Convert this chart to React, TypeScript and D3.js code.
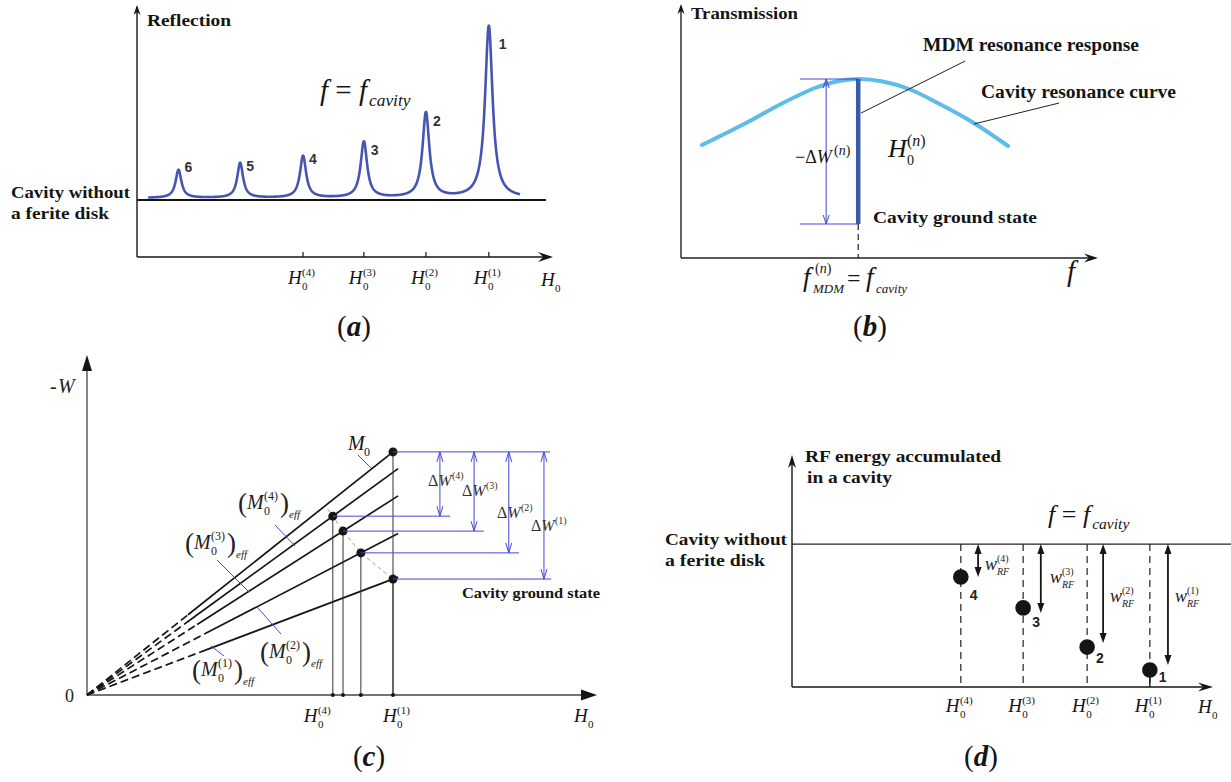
import React from 'react';
import * as d3 from 'd3';

const SERIF = "'Liberation Serif','Times New Roman',Times,serif";
const SANS = "'Liberation Sans',Arial,Helvetica,sans-serif";
const BLUE = '#4646d6';
const INK = '#151515';

// ---------- Panel (a): reflection peaks ----------
const reflPeakLabels = ['1', '2', '3', '4', '5', '6'];
const reflPeakH0 = [85.6, 70.3, 55.2, 40.4, 25.1, 10.1];
const reflPeakTop = [3.915, 2.44, 1.949, 1.71, 1.593, 1.475];
const reflPeakWidth = [1.1, 1.0, 0.95, 0.9, 0.85, 0.85];
const reflPeakLabelDy = [23, 13, 13, 8, 8, 2];
const reflPeakLabelDx = [10, 7, 7, 6, 6, 6];
const reflBase = 1.0;
const reflNoDisk = 0.966;
const reflRange = [2.7, 93.2];
const aTickH0 = [40.4, 55.2, 70.3, 85.6];
const aTickLabels = ['(4)', '(3)', '(2)', '(1)'];

// ---------- Panel (b): transmission ----------
const transF = [5.05, 14.7, 24.5, 32.2, 37.3, 42.6, 48.5, 54.8, 61.5, 70.4, 78.6];
const transT = [45.2, 53.2, 62, 68, 70.6, 71.6, 70.6, 67.6, 62.2, 54, 44.8];
const fMDM = 42.6;
const mdmTop = 71.6;
const groundB = 13.6;

// ---------- Panel (c): -W vs H0 ----------
const cLabels = ['(4)', '(3)', '(2)', '(1)'];
const cH0 = [48.2, 50.2, 53.7, 60.0];
const cWeff = [52.6, 48.2, 41.8, 34.1];
const cM0 = 71.5;
const cLineEnd = 61;
const cSolidFromM0 = 19.8;
const cSolidFrom = [20.2, 21.6, 23.1, 23.1];
const cBlueEnd = [71.2, 77.8, 84.7, 91.0];
const cBlueTopEnd = 90.8;
const cArrowX = [69.2, 75.9, 82.7, 89.6];

// ---------- Panel (d): RF energy ----------
const dLabels = ['4', '3', '2', '1'];
const dSup = ['(4)', '(3)', '(2)', '(1)'];
const dH0 = [40.1, 54.9, 70.1, 85.0];
const dEnergy = [47.4, 34.1, 17.2, 7.3];
const dArrowX = [44.2, 59.1, 73.9, 89.3];
const dArrowEnd = [47.4, 31.9, 19.0, 9.5];
const dNoDisk = 61.6;
const dLabelDy = [23, 19, 16, 12];

// scales
const xA = d3.scaleLinear().domain([0, 100]).range([137, 548]);
const yA = d3.scaleLinear().domain([0, 4]).range([257, 21]);
const xB = d3.scaleLinear().domain([0, 100]).range([681, 1097]);
const yB = d3.scaleLinear().domain([0, 100]).range([258, 8]);
const xC = d3.scaleLinear().domain([0, 100]).range([87, 597]);
const yC = d3.scaleLinear().domain([0, 100]).range([695, 355]);
const xD = d3.scaleLinear().domain([0, 100]).range([792, 1213]);
const yD = d3.scaleLinear().domain([0, 100]).range([687, 455]);

function Arrow({ x, y, angle, len = 14, half = 5, notch = 0.3, fill = INK }: any) {
  const d = `M0,0 L${-len},${-half} L${-len * (1 - notch)},0 L${-len},${half} Z`;
  return <path d={d} transform={`translate(${x},${y}) rotate(${angle})`} fill={fill} />;
}
function OpenArrow({ x, y, angle, len = 9, half = 3, stroke = BLUE }: any) {
  const d = `M${-len},${-half} L0,0 L${-len},${half}`;
  return <path d={d} transform={`translate(${x},${y}) rotate(${angle})`} fill="none" stroke={stroke} strokeWidth={1} />;
}
function Sym({ x, y, size = 20, base, bw, sub, sup, subSize, supSize, subItalic = false, subDy, supDy, fill = INK }: any) {
  return (
    <g fill={fill} fontFamily={SERIF}>
      <text x={x} y={y} fontSize={size}>{base}</text>
      {sub && (
        <text x={x + bw} y={y + (subDy ?? size * 0.3)} fontSize={subSize ?? size * 0.58} fontStyle={subItalic ? 'italic' : 'normal'}>{sub}</text>
      )}
      {sup && (
        <text x={x + bw} y={y - (supDy ?? size * 0.42)} fontSize={supSize ?? size * 0.58}>{sup}</text>
      )}
    </g>
  );
}
const N_SUP = <>(<tspan fontStyle="italic">n</tspan>)</>;
function HLabel({ x, y, sup, size = 19 }: any) {
  return <Sym x={x} y={y} size={size} base={<tspan fontStyle="italic">H</tspan>} bw={size * 0.74} sub="0" sup={sup} subSize={size * 0.58} supSize={size * 0.58} />;
}
function Caption({ cx, y, letter }: any) {
  return (
    <text x={cx} y={y} textAnchor="middle" fontFamily={SERIF} fontSize={29} fill={INK}>
      (<tspan fontStyle="italic" fontWeight="bold">{letter}</tspan>)
    </text>
  );
}
function Bold({ x, y, size = 17, w, children }: any) {
  return (
    <text x={x} y={y} fontFamily={SERIF} fontWeight="bold" fontSize={size} fill={INK} textLength={w} lengthAdjust="spacingAndGlyphs">{children}</text>
  );
}
function FCavity({ x, y, size = 27 }: any) {
  return (
    <text x={x} y={y} fontFamily={SERIF} fontSize={size} fill={INK} fontStyle="italic">
      f<tspan fontStyle="normal"> = </tspan>f<tspan fontSize={size * 0.6} dy={size * 0.22} dx={2}>cavity</tspan>
    </text>
  );
}
function MEff({ x, y, n }: any) {
  return (
    <g fontFamily={SERIF} fill="#222">
      <text x={x} y={y + 3} fontSize={27}>(</text>
      <text x={x + 9} y={y} fontSize={20} fontStyle="italic">M</text>
      <text x={x + 26} y={y + 6} fontSize={12}>0</text>
      <text x={x + 26} y={y - 9} fontSize={12}>{n}</text>
      <text x={x + 42} y={y + 3} fontSize={27}>)</text>
      <text x={x + 51} y={y + 9} fontSize={11} fontStyle="italic">eff</text>
    </g>
  );
}

function PanelA() {
  const reflAt = (h: number) =>
    reflBase +
    d3.sum(reflPeakH0, (c, i) => {
      const g = reflPeakWidth[i];
      const a = reflPeakTop[i] - reflBase;
      return (a * g * g) / ((h - c) ** 2 + g * g);
    });
  const samples = d3.range(reflRange[0], reflRange[1] + 1e-9, 0.05);
  const line = d3.line<number>().x((h) => xA(h)).y((h) => yA(reflAt(h)));
  return (
    <g>
      <line x1={xA(0)} y1={yA(0)} x2={xA(0)} y2={7} stroke={INK} strokeWidth={1.4} />
      <Arrow x={xA(0)} y={5} angle={-90} len={10} half={3.5} />
      <line x1={xA(0)} y1={yA(0)} x2={548} y2={yA(0)} stroke={INK} strokeWidth={1.6} />
      <Arrow x={553} y={yA(0)} angle={0} len={15} half={5} notch={0.35} />
      {aTickH0.map((h, i) => (
        <g key={i}>
          <line x1={xA(h)} x2={xA(h)} y1={yA(0)} y2={yA(0) - 5} stroke={INK} strokeWidth={1.2} />
          <HLabel x={xA(h) - 15} y={284} sup={aTickLabels[i]} />
        </g>
      ))}
      <HLabel x={541} y={286} />
      <line x1={xA(0)} x2={546} y1={yA(reflNoDisk)} y2={yA(reflNoDisk)} stroke={INK} strokeWidth={2} />
      <path d={line(samples) || ''} fill="none" stroke="#4655b2" strokeWidth={2.6} strokeLinejoin="round" />
      {reflPeakLabels.map((lab, i) => (
        <text key={lab} x={xA(reflPeakH0[i]) + reflPeakLabelDx[i]} y={yA(reflPeakTop[i]) + reflPeakLabelDy[i]} fontFamily={SANS} fontWeight="bold" fontSize={14} fill="#333">{lab}</text>
      ))}
      <Bold x={147} y={26} w={84}>Reflection</Bold>
      <Bold x={11} y={198} w={119}>Cavity without</Bold>
      <Bold x={11} y={219} w={98}>a ferite disk</Bold>
      <FCavity x={320} y={100} size={29} />
      <Caption cx={354} y={336} letter="a" />
    </g>
  );
}

function PanelB() {
  const pts = transF.map((f, i) => [f, transT[i]] as [number, number]);
  const line = d3.line<[number, number]>().x((d) => xB(d[0])).y((d) => yB(d[1])).curve(d3.curveCatmullRom.alpha(0.5));
  const dimX = xB(34.9);
  const dimL = xB(28.6);
  return (
    <g>
      <line x1={xB(0)} y1={yB(0)} x2={xB(0)} y2={6} stroke="#222" strokeWidth={1.4} />
      <Arrow x={xB(0)} y={4} angle={-90} len={10} half={3.5} />
      <line x1={xB(0)} y1={yB(0)} x2={1092} y2={yB(0)} stroke="#222" strokeWidth={1.5} />
      <Arrow x={1098} y={yB(0)} angle={0} len={14} half={4.5} notch={0.35} />
      <path d={line(pts) || ''} fill="none" stroke="#56b7e8" strokeWidth={4} strokeLinecap="round" opacity={0.95} />
      <line x1={xB(fMDM)} x2={xB(fMDM)} y1={yB(groundB)} y2={yB(0)} stroke="#222" strokeWidth={1.2} strokeDasharray="6,4" />
      <line x1={xB(fMDM)} x2={xB(fMDM)} y1={yB(mdmTop)} y2={yB(groundB)} stroke="#3a59a8" strokeWidth={4.5} />
      <line x1={dimL} x2={xB(fMDM)} y1={yB(mdmTop)} y2={yB(mdmTop)} stroke={BLUE} strokeWidth={1} />
      <line x1={dimL} x2={xB(fMDM)} y1={yB(groundB)} y2={yB(groundB)} stroke={BLUE} strokeWidth={1} />
      <line x1={dimX} x2={dimX} y1={yB(mdmTop)} y2={yB(groundB)} stroke={BLUE} strokeWidth={1} />
      <OpenArrow x={dimX} y={yB(mdmTop)} angle={-90} />
      <OpenArrow x={dimX} y={yB(groundB)} angle={90} />
      <Sym x={795} y={163} size={18}
        base={<><tspan>−Δ</tspan><tspan fontStyle="italic">W</tspan></>} bw={39}
        sup={N_SUP} supSize={14} supDy={8} />
      <Sym x={888} y={157} size={26} base={<tspan fontStyle="italic">H</tspan>} bw={19} sub="0" subSize={14} subDy={8} sup={N_SUP} supSize={16} supDy={11} />
      <line x1={xB(68.3)} y1={yB(78.8)} x2={xB(43.3)} y2={yB(58)} stroke="#222" strokeWidth={1} />
      <line x1={xB(90.9)} y1={yB(62)} x2={xB(70.4)} y2={yB(53.6)} stroke="#222" strokeWidth={1} />
      <Bold x={691} y={19} w={107}>Transmission</Bold>
      <Bold x={923} y={51} size={18} w={216}>MDM resonance response</Bold>
      <Bold x={981} y={98} size={18} w={195}>Cavity resonance curve</Bold>
      <Bold x={873} y={223} size={17} w={164}>Cavity ground state</Bold>
      <text x={803} y={286} fontFamily={SERIF} fontSize={27} fill={INK} fontStyle="italic">f</text>
      <text x={813} y={293} fontFamily={SERIF} fontSize={13} fill={INK} fontStyle="italic">MDM</text>
      <text x={815} y={273} fontFamily={SERIF} fontSize={14} fill={INK}>{N_SUP}</text>
      <text x={847} y={286} fontFamily={SERIF} fontSize={24} fill={INK}>=</text>
      <text x={866} y={286} fontFamily={SERIF} fontSize={27} fill={INK} fontStyle="italic">f</text>
      <text x={876} y={293} fontFamily={SERIF} fontSize={13} fill={INK} fontStyle="italic">cavity</text>
      <text x={1067} y={281} fontFamily={SERIF} fontSize={29} fill={INK} fontStyle="italic">f</text>
      <Caption cx={870} y={336} letter="b" />
    </g>
  );
}

function PanelC() {
  const ox = xC(0);
  const oy = yC(0);
  const lines = [
    { slope: cM0 / cH0[3], end: cH0[3], solid: cSolidFromM0 },
    ...cH0.map((h, i) => ({ slope: cWeff[i] / h, end: cLineEnd, solid: cSolidFrom[i] })),
  ];
  const locus = d3.line<[number, number]>().x((d) => xC(d[0])).y((d) => yC(d[1]));
  const locusPts: [number, number][] = [[cH0[0] - 1, cWeff[0] + 2.1], ...cH0.map((h, i) => [h, cWeff[i]] as [number, number])];
  return (
    <g>
      <line x1={ox} y1={oy} x2={ox} y2={370} stroke="#444" strokeWidth={1.3} />
      <Arrow x={ox} y={355} angle={-90} len={16} half={5} notch={0} />
      <line x1={ox} y1={oy} x2={585} y2={oy} stroke="#444" strokeWidth={1.3} />
      <Arrow x={597} y={oy} angle={0} len={16} half={5.5} notch={0} />
      {lines.map((l, i) => (
        <g key={i}>
          <line x1={ox} y1={oy} x2={xC(l.solid)} y2={yC(l.solid * l.slope)} stroke={INK} strokeWidth={1.7} strokeDasharray="8,4" />
          <line x1={xC(l.solid)} y1={yC(l.solid * l.slope)} x2={xC(l.end)} y2={yC(l.end * l.slope)} stroke={INK} strokeWidth={1.7} />
        </g>
      ))}
      <path d={locus(locusPts) || ''} fill="none" stroke="#888" strokeWidth={0.8} strokeDasharray="4,3" />
      <line x1={xC(cH0[3])} x2={xC(cH0[3])} y1={yC(cM0)} y2={oy} stroke="#333" strokeWidth={1} />
      {cH0.map((h, i) => (
        <g key={i}>
          <line x1={xC(h)} x2={xC(h)} y1={yC(cWeff[i])} y2={oy} stroke="#333" strokeWidth={1} />
          <circle cx={xC(h)} cy={oy} r={2} fill={INK} />
          <circle cx={xC(h)} cy={yC(cWeff[i])} r={4.5} fill={INK} />
          <line x1={xC(h)} x2={xC(cBlueEnd[i])} y1={yC(cWeff[i])} y2={yC(cWeff[i])} stroke={BLUE} strokeWidth={1} />
          <line x1={xC(cArrowX[i])} x2={xC(cArrowX[i])} y1={yC(cM0)} y2={yC(cWeff[i])} stroke={BLUE} strokeWidth={1} />
          <OpenArrow x={xC(cArrowX[i])} y={yC(cM0)} angle={-90} len={10} />
          <OpenArrow x={xC(cArrowX[i])} y={yC(cWeff[i])} angle={90} len={10} />
        </g>
      ))}
      <circle cx={xC(cH0[3])} cy={yC(cM0)} r={4.5} fill={INK} />
      <line x1={xC(cH0[3])} x2={xC(cBlueTopEnd)} y1={yC(cM0)} y2={yC(cM0)} stroke={BLUE} strokeWidth={1} />
      {/* leaders */}
      <line x1={358} y1={455} x2={371} y2={468} stroke={BLUE} strokeWidth={1} />
      <line x1={275} y1={525} x2={295} y2={546} stroke={BLUE} strokeWidth={1} />
      <line x1={217} y1={560} x2={249} y2={592} stroke={BLUE} strokeWidth={1} />
      <line x1={257} y1={607} x2={281} y2={634} stroke={BLUE} strokeWidth={1} />
      <line x1={211} y1={646} x2={224} y2={656} stroke={BLUE} strokeWidth={1} />
      <Sym x={348} y={450} size={20} base={<tspan fontStyle="italic">M</tspan>} bw={16} sub="0" subSize={12} subDy={6} />
      <MEff x={238} y={509} n="(4)" />
      <MEff x={185} y={549} n="(3)" />
      <MEff x={260} y={658} n="(2)" />
      <MEff x={192} y={676} n="(1)" />
      {cLabels.map((lab, i) => {
        const pos = [[428, 486], [462, 496], [497, 518], [531, 531]][i];
        return (
          <Sym key={lab} x={pos[0]} y={pos[1]} size={16} base={<><tspan>Δ</tspan><tspan fontStyle="italic">W</tspan></>} bw={24} sup={lab} supSize={10} supDy={7} fill="#333" />
        );
      })}
      <Bold x={462} y={598} size={14.5} w={138}>Cavity ground state</Bold>
      <text x={50} y={393} fontFamily={SERIF} fontSize={20} fill="#222">-</text>
      <text x={58} y={393} fontFamily={SERIF} fontSize={20} fill="#222" fontStyle="italic">W</text>
      <text x={65} y={702} fontFamily={SERIF} fontSize={18} fill="#222">0</text>
      <HLabel x={xC(cH0[0]) - 29} y={722} sup={cLabels[0]} />
      <HLabel x={xC(cH0[3]) - 10} y={722} sup={cLabels[3]} />
      <HLabel x={574} y={722} />
      <Caption cx={369} y={766} letter="c" />
    </g>
  );
}

function PanelD() {
  return (
    <g>
      <line x1={xD(0)} y1={yD(0)} x2={xD(0)} y2={462} stroke={INK} strokeWidth={1.4} />
      <Arrow x={xD(0)} y={yD(100)} angle={-90} len={13} half={4} notch={0.3} />
      <line x1={xD(0)} y1={yD(0)} x2={1205} y2={yD(0)} stroke={INK} strokeWidth={1.5} />
      <Arrow x={1213} y={yD(0)} angle={0} len={15} half={4.5} notch={0.35} />
      <line x1={xD(0)} x2={1231} y1={yD(dNoDisk)} y2={yD(dNoDisk)} stroke="#222" strokeWidth={1.2} />
      {dH0.map((h, i) => (
        <g key={i}>
          <line x1={xD(h)} x2={xD(h)} y1={yD(dNoDisk)} y2={yD(0)} stroke="#222" strokeWidth={1.2} strokeDasharray="7,5" />
          <circle cx={xD(h)} cy={yD(dEnergy[i])} r={7.8} fill={INK} />
          <text x={xD(h) + 9} y={yD(dEnergy[i]) + dLabelDy[i]} fontFamily={SANS} fontWeight="bold" fontSize={14} fill="#222">{dLabels[i]}</text>
          <line x1={xD(dArrowX[i])} x2={xD(dArrowX[i])} y1={yD(dNoDisk) + 8} y2={yD(dArrowEnd[i]) - 8} stroke={INK} strokeWidth={1.8} />
          <Arrow x={xD(dArrowX[i])} y={yD(dNoDisk)} angle={-90} len={10} half={3.5} notch={0} />
          <Arrow x={xD(dArrowX[i])} y={yD(dArrowEnd[i])} angle={90} len={10} half={3.5} notch={0} />
          <HLabel x={xD(h) - 15} y={712} sup={dSup[i]} />
        </g>
      ))}
      <line x1={xD(dH0[3])} x2={xD(dH0[3])} y1={yD(dEnergy[3])} y2={yD(0)} stroke={INK} strokeWidth={1.4} />
      {dSup.map((s, i) => {
        const pos = [[985, 570], [1050, 583], [1110, 602], [1175, 602]][i];
        return (
          <Sym key={s} x={pos[0]} y={pos[1]} size={18} base={<tspan fontStyle="italic">w</tspan>} bw={12} sub="RF" subItalic subSize={10} subDy={5} sup={s} supSize={10} supDy={8} fill="#222" />
        );
      })}
      <HLabel x={1198} y={713} />
      <Bold x={805} y={462} size={16} w={196}>RF energy accumulated</Bold>
      <Bold x={807} y={483} size={16} w={85}>in a cavity</Bold>
      <Bold x={665} y={545} size={17} w={122}>Cavity without</Bold>
      <Bold x={665} y={566} size={17} w={100}>a ferite disk</Bold>
      <FCavity x={1048} y={523} size={26} />
      <Caption cx={981} y={766} letter="d" />
    </g>
  );
}

export default function App() {
  return (
    <svg width={1231} height={782} viewBox="0 0 1231 782" style={{ position: 'absolute', left: 0, top: 0, background: '#fff' }}>
      <rect width={1231} height={782} fill="#fff" />
      <PanelA />
      <PanelB />
      <PanelC />
      <PanelD />
    </svg>
  );
}
